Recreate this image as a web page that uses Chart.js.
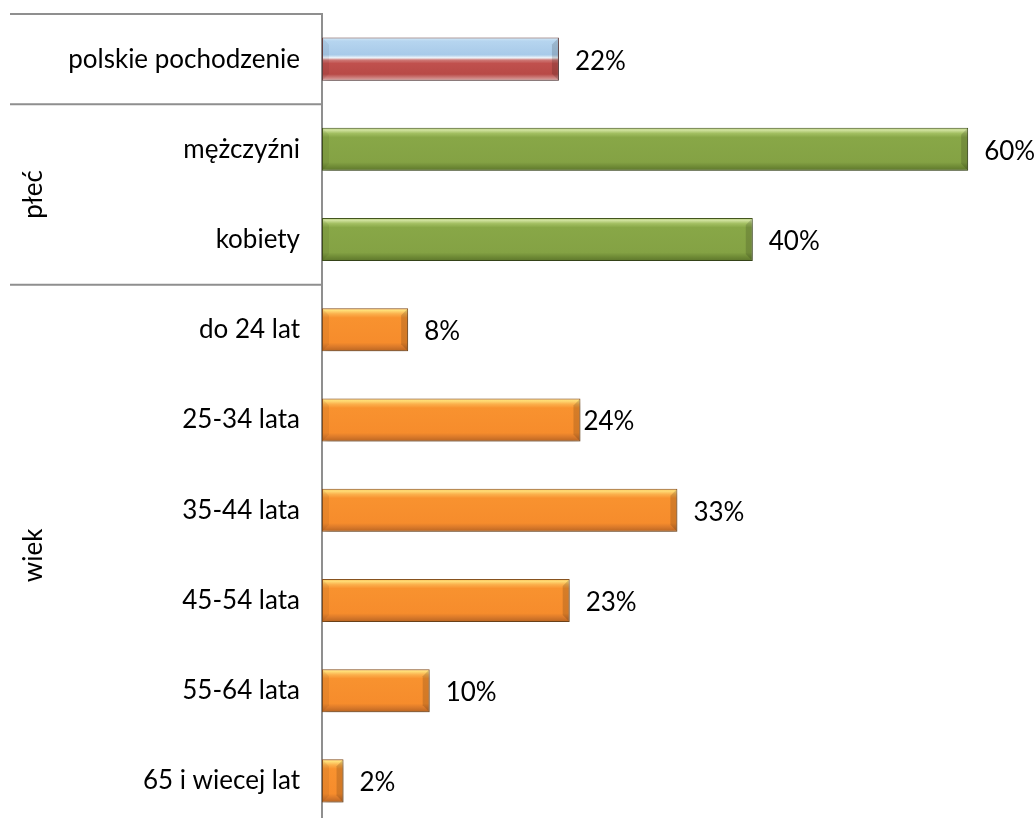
<!DOCTYPE html>
<html>
<head>
<meta charset="utf-8">
<script src="https://cdn.jsdelivr.net/npm/chart.js@4/dist/chart.umd.min.js"></script>
<style>
  html, body { margin: 0; padding: 0; background: #fff; overflow: hidden; }
  #wrap { position: relative; width: 1036px; height: 830px; }
</style>
</head>
<body>
<div id="wrap"><canvas id="c"></canvas></div>
<script>
// ---- data ----
const categories = ['polskie pochodzenie', 'mężczyźni', 'kobiety', 'do 24 lat', '25-34 lata', '35-44 lata', '45-54 lata', '55-64 lata', '65 i wiecej lat'];
const groups = ['', 'płeć', 'płeć', 'wiek', 'wiek', 'wiek', 'wiek', 'wiek', 'wiek'];
const values = [22, 60, 40, 8, 24, 33, 23, 10, 2];

const FONT = 'Lato, "Open Sans", sans-serif';
const FONT_SIZE = 26;
const AXIS_X = 322;
const LINE_COLOR = '#8f8f8f';
const BAR_FRACTION = 0.477;

function groupStyle(g) {
  if (g === 'płeć') return { stops: [[0, '#a9c46c'], [0.05, '#d2e3a0'], [0.13, '#a2bf61'], [0.22, '#88a747'], [0.8, '#84a244'], [0.9, '#6f8b36'], [1, '#5c752b']], border: '#45571f' };
  if (g === 'wiek') return { stops: [[0, '#f5a742'], [0.05, '#ffdf78'], [0.13, '#fbb04c'], [0.22, '#f8922f'], [0.8, '#f68c2c'], [0.9, '#d8782a'], [1, '#b86420']], border: '#8a5420' };
  return { stops: [[0, '#d6ecfb'], [0.08, '#b6d5ef'], [0.4, '#a8cae9'], [0.47, '#eef5fb'], [0.52, '#cf7a77'], [0.6, '#c0504d'], [0.85, '#b84a47'], [1, '#dcaaa8']], border: '#6b4545' };
}

function fillFor(ctx) {
  const chart = ctx.chart;
  const st = groupStyle(groups[ctx.dataIndex]);
  const y = chart.scales && chart.scales.y;
  if (!chart.chartArea || !y || ctx.dataIndex === undefined) return st.stops[3][1];
  const cy = y.getPixelForValue(ctx.dataIndex);
  const step = y.height / categories.length;
  const h = step * BAR_FRACTION;
  const g = chart.ctx.createLinearGradient(0, cy - h / 2, 0, cy + h / 2);
  st.stops.forEach(s => g.addColorStop(s[0], s[1]));
  return g;
}

const decor = {
  id: 'decor',
  beforeDatasetsDraw(chart) {
    const { ctx, scales: { y }, chartArea } = chart;
    const step = y.height / categories.length;
    ctx.save();
    ctx.strokeStyle = LINE_COLOR;
    ctx.lineWidth = 2;
    const top = y.getPixelForValue(0) - step / 2;
    ctx.beginPath();
    ctx.moveTo(10, top); ctx.lineTo(chartArea.left, top);
    for (let i = 1; i < groups.length; i++) {
      if (groups[i] !== groups[i - 1]) {
        const yy = y.getPixelForValue(i) - step / 2;
        ctx.moveTo(10, yy); ctx.lineTo(chartArea.left, yy);
      }
    }
    ctx.moveTo(chartArea.left, top - 1);
    ctx.lineTo(chartArea.left, chart.height);
    ctx.stroke();
    // group labels (rotated)
    ctx.fillStyle = '#000';
    ctx.font = FONT_SIZE + 'px ' + FONT;
    ctx.textAlign = 'center';
    ctx.textBaseline = 'middle';
    const seen = {};
    groups.forEach((g, i) => {
      if (!g) return;
      if (!seen[g]) seen[g] = [i, i]; else seen[g][1] = i;
    });
    Object.keys(seen).forEach(g => {
      const cy = (y.getPixelForValue(seen[g][0]) + y.getPixelForValue(seen[g][1])) / 2;
      ctx.save();
      ctx.translate(34, cy);
      ctx.rotate(-Math.PI / 2);
      ctx.fillText(g, 0, 0);
      ctx.restore();
    });
    ctx.restore();
  },
  beforeDatasetDraw(chart) {
    const ctx = chart.ctx;
    ctx.save();
    ctx.shadowColor = 'rgba(0,0,0,0.30)';
    ctx.shadowBlur = 7;
    ctx.shadowOffsetX = 2;
    ctx.shadowOffsetY = 4;
  },
  afterDatasetDraw(chart) {
    chart.ctx.restore();
  },
  afterDatasetsDraw(chart) {
    const ctx = chart.ctx;
    const meta = chart.getDatasetMeta(0);
    ctx.save();
    // side bevels
    meta.data.forEach(bar => {
      const x0 = bar.base, x1 = bar.x, y0 = bar.y - bar.height / 2, y1 = bar.y + bar.height / 2;
      const b = Math.min(7, (x1 - x0) / 2);
      ctx.fillStyle = 'rgba(0,0,0,0.06)';
      ctx.beginPath();
      ctx.moveTo(x0 + 0.5, y0 + 0.5); ctx.lineTo(x0 + b, y0 + b); ctx.lineTo(x0 + b, y1 - b); ctx.lineTo(x0 + 0.5, y1 - 0.5);
      ctx.closePath(); ctx.fill();
      ctx.fillStyle = 'rgba(0,0,0,0.14)';
      ctx.beginPath();
      ctx.moveTo(x1 - 0.5, y0 + 0.5); ctx.lineTo(x1 - b, y0 + b); ctx.lineTo(x1 - b, y1 - b); ctx.lineTo(x1 - 0.5, y1 - 0.5);
      ctx.closePath(); ctx.fill();
    });
    // value labels
    ctx.fillStyle = '#000';
    ctx.font = FONT_SIZE + 'px ' + FONT;
    ctx.textAlign = 'left';
    ctx.textBaseline = 'middle';
    meta.data.forEach((bar, i) => {
      const gap = i === 4 ? 3 : 16;
      ctx.fillText(values[i] + '%', bar.x + gap, bar.y + 2);
    });
    ctx.restore();
  }
};

new Chart(document.getElementById('c'), {
  type: 'bar',
  data: {
    labels: categories,
    datasets: [{
      data: values,
      backgroundColor: fillFor,
      borderColor: ctx => groupStyle(groups[ctx.dataIndex]).border,
      borderWidth: 1,
      borderSkipped: false,
      barPercentage: BAR_FRACTION,
      categoryPercentage: 1
    }]
  },
  options: {
    indexAxis: 'y',
    responsive: true,
    maintainAspectRatio: false,
    animation: false,
    layout: { padding: { top: 14, bottom: 4, left: 0, right: 14 } },
    plugins: { legend: { display: false }, tooltip: { enabled: false } },
    scales: {
      x: { display: false, min: 0, max: 65 },
      y: {
        afterFit: s => { s.width = AXIS_X; s.paddingTop = 0; s.paddingBottom = 0; },
        grid: { display: false, drawTicks: false },
        border: { display: false },
        ticks: { color: '#000', padding: 22, font: { family: FONT, size: FONT_SIZE } }
      }
    }
  },
  plugins: [decor]
});
</script>
</body>
</html>
